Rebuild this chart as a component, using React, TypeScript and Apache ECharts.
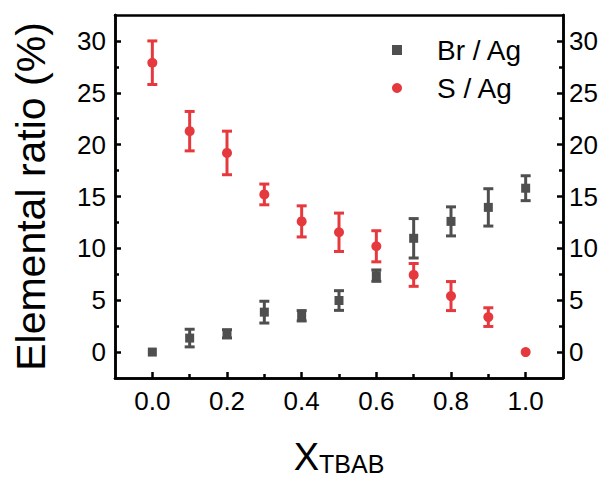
import React, { useEffect, useRef } from "react";
import * as echarts from "echarts";

const xValues = [0, 0.1, 0.2, 0.3, 0.4, 0.5, 0.6, 0.7, 0.8, 0.9, 1.0];
const brAg = [0, 1.35, 1.76, 3.85, 3.5, 4.97, 7.37, 10.97, 12.6, 13.95, 15.8];
const brErr = [0, 0.85, 0.4, 1.05, 0.5, 0.95, 0.55, 1.9, 1.4, 1.8, 1.2];
const sAg = [27.9, 21.3, 19.2, 15.2, 12.6, 11.55, 10.2, 7.44, 5.4, 3.37, 0];
const sErr = [2.1, 1.9, 2.1, 1.0, 1.5, 1.85, 1.5, 1.1, 1.4, 0.9, 0];

const xMajor = [0, 0.2, 0.4, 0.6, 0.8, 1.0];
const xMinor = [0.1, 0.3, 0.5, 0.7, 0.9];
const yMajor = [0, 5, 10, 15, 20, 25, 30];
const yMinor = [2.5, 7.5, 12.5, 17.5, 22.5, 27.5];

const RED = "#e5393e";
const GRAY = "#4f4f4f";
const FONT = "Liberation Sans, Arial, Helvetica, sans-serif";

function errorBarSeries(ys: number[], errs: number[], color: string) {
  const data = xValues
    .map((x, i) => [x, ys[i], errs[i]])
    .filter((d) => d[2] > 0);
  return {
    type: "custom",
    xAxisIndex: 0,
    yAxisIndex: 0,
    silent: true,
    encode: { x: 0, y: 1 },
    data,
    renderItem: (params: any, api: any) => {
      const x = api.value(0);
      const y = api.value(1);
      const e = api.value(2);
      const hi = api.coord([x, y + e]);
      const lo = api.coord([x, y - e]);
      const w = 5;
      const style = { stroke: color, lineWidth: 3 };
      return {
        type: "group",
        children: [
          { type: "line", shape: { x1: hi[0], y1: hi[1], x2: lo[0], y2: lo[1] }, style },
          { type: "line", shape: { x1: hi[0] - w, y1: hi[1], x2: hi[0] + w, y2: hi[1] }, style },
          { type: "line", shape: { x1: lo[0] - w, y1: lo[1], x2: lo[0] + w, y2: lo[1] }, style },
        ],
      };
    },
  };
}

function axisCommon() {
  return {
    type: "value",
    splitLine: { show: false },
    axisLine: { show: true, onZero: false, lineStyle: { color: "#000", width: 2.5 } },
  };
}

export default function App() {
  const ref = useRef<HTMLDivElement>(null);
  useEffect(() => {
    if (!ref.current) return;
    const chart = echarts.init(ref.current, null, { renderer: "svg" });
    const xBase = { min: -0.1, max: 1.1 };
    const yBase = { min: -2.5, max: 32.5 };
    const labelStyle = { color: "#000", fontSize: 26, fontFamily: FONT };
    const tickLine = { width: 2.5, color: "#000" };
    chart.setOption({
      animation: false,
      backgroundColor: "#fff",
      textStyle: { fontFamily: FONT },
      grid: { left: 115, right: 48, top: 15, bottom: 102, containLabel: false },
      legend: {
        orient: "vertical",
        left: 387,
        top: 30,
        itemWidth: 10,
        itemHeight: 10,
        itemGap: 8,
        data: [
          { name: "Br / Ag", icon: "rect" },
          { name: "S / Ag", icon: "circle" },
        ],
        textStyle: { fontSize: 28, color: "#000", fontFamily: FONT, padding: [0, 0, 0, 30], lineHeight: 30 },
      },
      xAxis: [
        {
          ...axisCommon(),
          ...xBase,
          position: "bottom",
          axisTick: { show: true, inside: true, length: 6, lineStyle: tickLine, customValues: xMajor },
          axisLabel: {
            ...labelStyle,
            margin: 10,
            customValues: xMajor,
            formatter: (v: number) => v.toFixed(1),
          },
          name: "{x|X}{s|TBAB}",
          nameLocation: "middle",
          nameGap: 58,
          nameTextStyle: {
            rich: {
              x: { fontSize: 38, fontFamily: FONT, color: "#000", verticalAlign: "bottom", lineHeight: 40 },
              s: { fontSize: 25, fontFamily: FONT, color: "#000", verticalAlign: "bottom", lineHeight: 33 },
            },
          },
        },
        {
          ...axisCommon(),
          ...xBase,
          position: "bottom",
          axisTick: { show: true, inside: true, length: 4, lineStyle: tickLine, customValues: xMinor },
          axisLabel: { show: false },
        },
        {
          ...axisCommon(),
          ...xBase,
          position: "top",
          axisTick: { show: false },
          axisLabel: { show: false },
        },
      ],
      yAxis: [
        {
          ...axisCommon(),
          ...yBase,
          position: "left",
          axisTick: { show: true, inside: true, length: 6, lineStyle: tickLine, customValues: yMajor },
          axisLabel: { ...labelStyle, margin: 9, customValues: yMajor },
          name: "Elemental ratio (%)",
          nameLocation: "middle",
          nameRotate: 90,
          nameGap: 64,
          nameTextStyle: { fontSize: 41, color: "#000", fontFamily: FONT },
        },
        {
          ...axisCommon(),
          ...yBase,
          position: "right",
          axisTick: { show: true, inside: true, length: 6, lineStyle: tickLine, customValues: yMajor },
          axisLabel: { ...labelStyle, margin: 6, customValues: yMajor },
        },
        {
          ...axisCommon(),
          ...yBase,
          position: "left",
          axisTick: { show: true, inside: true, length: 4, lineStyle: tickLine, customValues: yMinor },
          axisLabel: { show: false },
        },
        {
          ...axisCommon(),
          ...yBase,
          position: "right",
          axisTick: { show: true, inside: true, length: 4, lineStyle: tickLine, customValues: yMinor },
          axisLabel: { show: false },
        },
      ],
      series: [
        errorBarSeries(brAg, brErr, GRAY),
        errorBarSeries(sAg, sErr, RED),
        {
          name: "Br / Ag",
          type: "scatter",
          symbol: "rect",
          symbolSize: 9,
          itemStyle: { color: GRAY, opacity: 1 },
          data: xValues.map((x, i) => [x, brAg[i]]),
          z: 3,
        },
        {
          name: "S / Ag",
          type: "scatter",
          symbol: "circle",
          symbolSize: 10,
          itemStyle: { color: RED, opacity: 1 },
          data: xValues.map((x, i) => [x, sAg[i]]),
          z: 3,
        },
      ],
    });
    return () => chart.dispose();
  }, []);
  return (
    <div
      ref={ref}
      style={{ position: "fixed", left: 0, top: 0, width: 611, height: 481 }}
    />
  );
}
